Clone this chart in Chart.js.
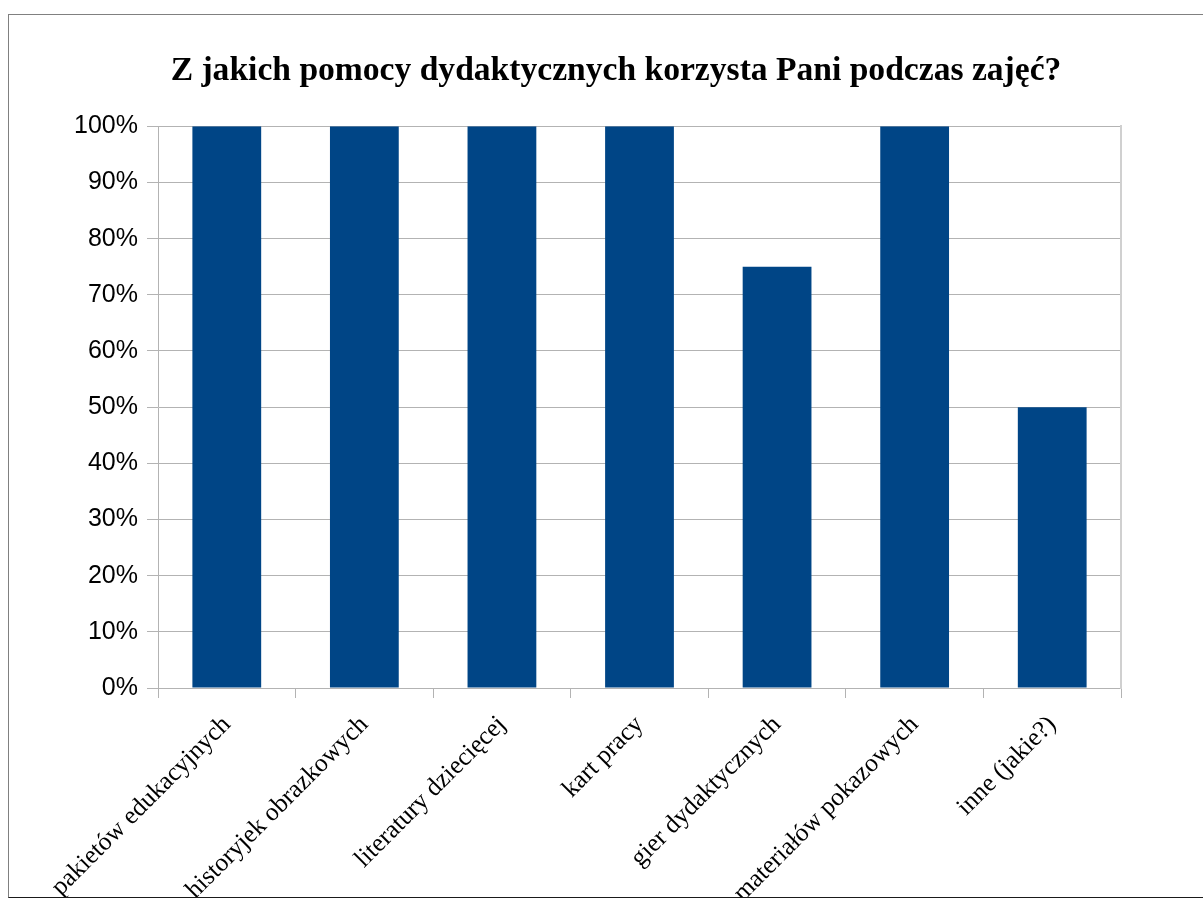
<!DOCTYPE html>
<html lang="pl">
<head>
    <meta charset="UTF-8">
    <title>Pomoce dydaktyczne</title>
    <script src="https://cdn.jsdelivr.net/npm/chart.js@4/dist/chart.umd.min.js"></script>
    <style>
        html, body {
            margin: 0;
            padding: 0;
            background: #ffffff;
            overflow: hidden;
        }
        .frame {
            position: absolute;
            left: 8px;
            top: 14px;
            width: 1300px;
            height: 882px;
            border-left: 1px solid #808080;
            border-top: 1px solid #808080;
            border-bottom: 1px solid #1a1a1a;
            overflow: hidden;
        }
        .box {
            position: absolute;
            left: 0;
            top: 0;
            width: 1194px;
            height: 882px;
        }
    </style>
</head>
<body>
    <div class="frame">
        <div class="box"><canvas id="chart"></canvas></div>
    </div>

    <script>
        // dane
        const categories = [
            'pakietów edukacyjnych',
            'historyjek obrazkowych',
            'literatury dziecięcej',
            'kart pracy',
            'gier dydaktycznych',
            'materiałów pokazowych',
            'inne (jakie?)'
        ];
        const shares = [100, 100, 100, 100, 75, 100, 50];
        const yTicks = [0, 10, 20, 30, 40, 50, 60, 70, 80, 90, 100];
        const chartTitle = 'Z jakich pomocy dydaktycznych korzysta Pani podczas zajęć?';

        const gridGray = '#b3b3b3';

        const ctx = document.getElementById('chart').getContext('2d');
        new Chart(ctx, {
            type: 'bar',
            data: {
                labels: categories,
                datasets: [{
                    data: shares,
                    backgroundColor: '#004586',
                    borderWidth: 0,
                    barPercentage: 0.5,
                    categoryPercentage: 1
                }]
            },
            options: {
                responsive: true,
                maintainAspectRatio: false,
                animation: false,
                layout: {
                    padding: { left: 40, right: 20, top: 0, bottom: 0 }
                },
                plugins: {
                    legend: { display: false },
                    tooltip: { enabled: false },
                    title: {
                        display: true,
                        text: chartTitle,
                        color: '#000000',
                        font: { family: 'Liberation Serif', size: 33.6, weight: 'bold' },
                        padding: { top: 36, bottom: 35 }
                    }
                },
                scales: {
                    x: {
                        offset: true,
                        grid: {
                            offset: true,
                            display: true,
                            drawOnChartArea: false,
                            color: gridGray,
                            tickLength: 10
                        },
                        border: { color: gridGray },
                        ticks: {
                            autoSkip: false,
                            minRotation: 45,
                            maxRotation: 45,
                            color: '#000000',
                            padding: 12,
                            font: { family: 'Liberation Serif', size: 25.5 }
                        },
                        afterFit: (scale) => { scale.height = 209; }
                    },
                    y: {
                        min: 0,
                        max: 100,
                        afterBuildTicks: (scale) => {
                            scale.ticks = yTicks.map(v => ({ value: v }));
                        },
                        grid: {
                            color: gridGray,
                            tickLength: 11
                        },
                        border: { color: gridGray },
                        ticks: {
                            color: '#000000',
                            padding: 9,
                            font: { family: 'Liberation Sans', size: 25 },
                            callback: (v) => v + '%'
                        },
                        afterFit: (scale) => { scale.width = 109; }
                    },
                    yRight: {
                        position: 'right',
                        min: 0,
                        max: 100,
                        grid: { display: false },
                        border: { display: true, color: '#d0d0d0', width: 2 },
                        ticks: { display: false },
                        afterFit: (scale) => { scale.width = 62; }
                    }
                }
            }
        });
    </script>
</body>
</html>
